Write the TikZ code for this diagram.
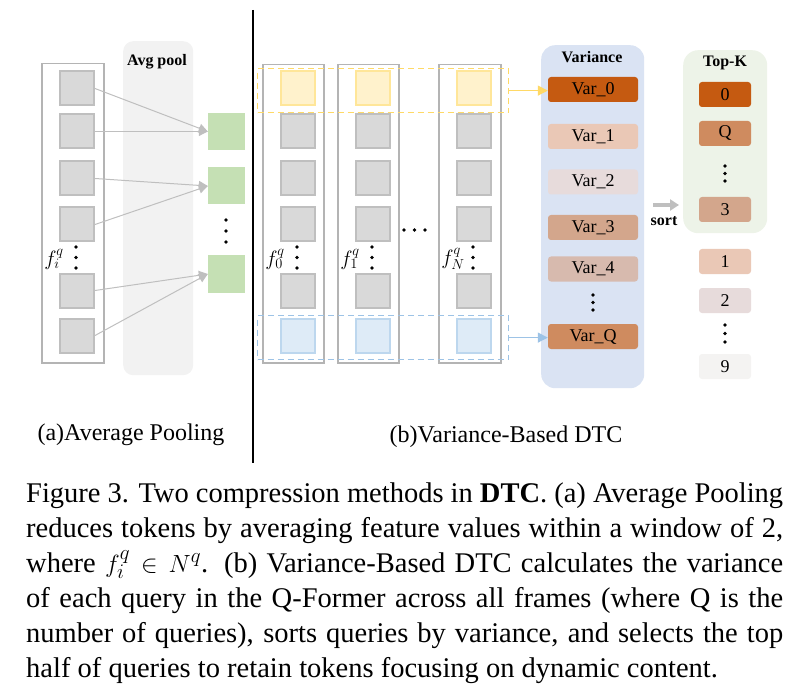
\documentclass[tikz,border=0pt]{standalone}
\usepackage{fontspec}
\setmainfont{Liberation Serif}
\usetikzlibrary{arrows.meta}
\definecolor{cgray}{HTML}{D9D9D9}
\definecolor{cgrayd}{HTML}{BFBFBF}
\definecolor{ccol}{HTML}{B4B4B4}
\definecolor{cyel}{HTML}{FFF2CC}
\definecolor{cyeld}{HTML}{FFE699}
\definecolor{cyeldash}{HTML}{FFD966}
\definecolor{cblue}{HTML}{DEEBF7}
\definecolor{cblued}{HTML}{BDD7EE}
\definecolor{cbluedash}{HTML}{9DC3E6}
\definecolor{cgreen}{HTML}{C5E0B4}
\definecolor{cpool}{HTML}{F2F2F2}
\definecolor{cvarbg}{HTML}{DAE3F3}
\definecolor{ctopbg}{HTML}{EDF3E8}
\definecolor{vA}{HTML}{C55A11}
\definecolor{vB}{HTML}{EAC8B6}
\definecolor{vC}{HTML}{E7DBDB}
\definecolor{vD}{HTML}{D3A68C}
\definecolor{vE}{HTML}{D7BAAE}
\definecolor{vF}{HTML}{CF8B5F}
\definecolor{vG}{HTML}{F4F3F2}
\begin{document}
\begin{tikzpicture}[x=1pt,y=-1pt,
  sq/.style={draw=cgrayd, fill=cgray, line width=2pt, minimum size=34pt, inner sep=0pt},
  ysq/.style={sq, draw=cyeld, fill=cyel},
  bsq/.style={sq, draw=cblued, fill=cblue},
  colbox/.style={draw=ccol, line width=1.5pt, inner sep=0pt, anchor=north west},
  gsq/.style={fill=cgreen, minimum size=37pt, inner sep=0pt},
  arr/.style={draw=cgrayd, line width=1pt, -{Triangle[length=9pt,width=9pt]}},
  panel/.style={rounded corners=#1, inner sep=0pt, anchor=north west},
  vbox/.style={rounded corners=3pt, minimum width=90pt, minimum height=25pt, inner sep=0pt, font=\fontsize{18}{20}\selectfont},
  kbox/.style={vbox, minimum width=52pt},
  ttl/.style={font=\fontsize{16}{18}\selectfont\bfseries, inner sep=0pt},
  dashbox/.style={dash pattern=on 6pt off 4pt, line width=1.2pt, inner sep=0pt, anchor=north west, minimum width=251pt, minimum height=44pt},
  flabel/.style={font=\fontsize{20}{22}\selectfont, inner sep=0pt},
  sub/.style={font=\fontsize{24}{28}\selectfont, inner sep=0pt, anchor=base}
]
\path[use as bounding box] (0,0) rectangle (798,695);

% ---------- (a) Average pooling ----------
\node[panel=10pt, fill=cpool, minimum width=70pt, minimum height=334pt] (pool) at (123,41) {};
\node[ttl] (pooltitle) at (157,62) {Avg pool};
\node[colbox, minimum width=62pt, minimum height=299pt] (acol) at (41,63) {};
\foreach \i/\y in {1/88.5,2/131.5,3/178.5,4/224.5,5/290.5,6/335.5}
  \node[sq] (a\i) at (77,\y) {};
\node[gsq] (g1) at (226.5,131.5) {};
\node[gsq] (g2) at (226.5,186) {};
\node[gsq] (g3) at (226.5,274) {};
\draw[arr] (a1.east) -- (g1.west);
\draw[arr] (a2.east) -- (g1.west);
\draw[arr] (a3.east) -- (g2.west);
\draw[arr] (a4.east) -- (g2.west);
\draw[arr] (a5.east) -- (g3.west);
\draw[arr] (a6.east) -- (g3.west);
\foreach \y in {220,231,242} \fill (226,\y) circle (1.8pt);
\foreach \y in {247,257.5,268} \fill (76,\y) circle (1.8pt);
\node[flabel] (fi) at (54,259) {$f_i^q$};

% ---------- separator ----------
\coordinate (septop) at (253,10);
\coordinate (sepbot) at (253,463);
\draw[line width=2pt] (septop) -- (sepbot);

% ---------- (b) Variance-based DTC ----------
\node[colbox, minimum width=61pt, minimum height=298pt] (bcol0) at (262,64) {};
\node[colbox, minimum width=61pt, minimum height=298pt] (bcol1) at (337,64) {};
\node[colbox, minimum width=62pt, minimum height=298pt] (bcolN) at (438,64) {};
\foreach \c/\x in {0/298,1/373,N/474}{
  \node[ysq] (b\c1) at (\x,88.5) {};
  \foreach \i/\y in {2/131.5,3/178.5,4/224.5,5/290.5}
    \node[sq] (b\c\i) at (\x,\y) {};
  \node[bsq] (b\c6) at (\x,335.5) {};
}
\node[dashbox, draw=cyeldash] (ybox) at (257,68) {};
\node[dashbox, draw=cbluedash] (bbox) at (257,315) {};
\foreach \x in {404,414.5,425} \fill (\x,230) circle (1.8pt);
\node[flabel] (f0) at (275,259) {$f_0^q$};
\node[flabel] (f1) at (350,259) {$f_1^q$};
\node[flabel] (fN) at (453,259) {$f_N^q$};
\foreach \x in {297,372,473}
  \foreach \y in {247,257.5,268} \fill (\x,\y) circle (1.8pt);

% Variance panel
\node[panel=14pt, fill=cvarbg, minimum width=103pt, minimum height=343pt] (varpanel) at (541,45) {};
\node[ttl] (vartitle) at (592,57) {Variance};
\node[vbox, fill=vA] (v0) at (593,89.5) {Var\_0};
\node[vbox, fill=vB] (v1) at (593,136.5) {Var\_1};
\node[vbox, fill=vC] (v2) at (593,182) {Var\_2};
\node[vbox, fill=vD] (v3) at (593,227.5) {Var\_3};
\node[vbox, fill=vE] (v4) at (593,269) {Var\_4};
\node[vbox, fill=vF] (vQ) at (593,336.5) {Var\_Q};
\foreach \y in {295,302.5,310} \fill (593,\y) circle (1.8pt);

\draw[cyeldash, line width=1.2pt, -{Triangle[length=10pt,width=10pt]}] (ybox.east) -- (ybox.east -| v0.west);
\draw[cbluedash, line width=1.2pt, -{Triangle[length=10pt,width=10pt]}] (bbox.east) -- (bbox.east -| vQ.west);

% sort arrow
\coordinate (sortA) at (653,205);
\coordinate (sortB) at (679,205);
\draw[cgrayd, line width=4.5pt, -{Triangle[length=9pt,width=11pt]}] (sortA) -- (sortB);
\node[ttl] (sortlbl) at (664,221) {sort};

% Top-K panel
\node[panel=15pt, fill=ctopbg, minimum width=84pt, minimum height=183pt] (toppanel) at (683,50) {};
\node[ttl] (toptitle) at (725,63) {Top-K};
\node[kbox, fill=vA] (k0) at (725,94.5) {0};
\node[kbox, fill=vF] (kQ) at (725,133.5) {Q};
\node[kbox, fill=vD] (k3) at (725,209.5) {3};
\node[kbox, fill=vB] (k1) at (725,261.5) {1};
\node[kbox, fill=vC] (k2) at (725,300.5) {2};
\node[kbox, fill=vG] (k9) at (725,366.5) {9};
\foreach \y in {166,173.5,181} \fill (725,\y) circle (1.8pt);
\foreach \y in {325,333.5,342} \fill (725,\y) circle (1.8pt);

% sub captions
\node[sub] (capa) at (131,440) {(a)Average Pooling};
\node[sub] (capb) at (506,442) {(b)Variance-Based DTC};

% figure caption
\node[anchor=base west, inner sep=0pt] (caption) at (26,502) {\parbox[t]{757pt}{\fontsize{28.5}{35}\selectfont
Figure 3. Two compression methods in \textbf{DTC}. (a) Average Pooling\linebreak
reduces tokens by averaging feature values within a window of 2,\linebreak
where $f_i^q \in N^q$. (b) Variance-Based DTC calculates the variance\linebreak
of each query in the Q-Former across all frames (where Q is the\linebreak
number of queries), sorts queries by variance, and selects the top\linebreak
half of queries to retain tokens focusing on dynamic content.}};
\end{tikzpicture}
\end{document}
